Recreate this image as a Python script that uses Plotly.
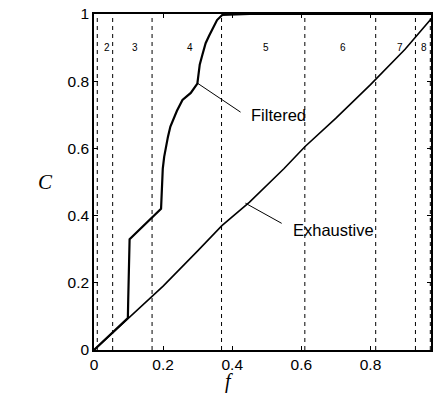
import plotly.graph_objects as go

# Region boundaries (dashed lines) and labels
boundaries = [0.0095, 0.054, 0.168, 0.369, 0.610, 0.815, 0.930, 0.973]
region_labels = ["2", "3", "4", "5", "6", "7", "8"]
region_label_x = [0.037, 0.118, 0.278, 0.498, 0.720, 0.885, 0.955]
region_label_y = 0.90

# Filtered curve
filt_f = [0.0, 0.05, 0.098, 0.099, 0.100, 0.103, 0.194, 0.196, 0.199, 0.203, 0.208, 0.214,
          0.221, 0.230, 0.240, 0.256, 0.280, 0.299, 0.302, 0.306, 0.314, 0.323, 0.333,
          0.342, 0.356, 0.371, 0.45, 0.60, 0.80, 0.975]
filt_c = [0.0, 0.05, 0.095, 0.15, 0.22, 0.33, 0.42, 0.48, 0.54, 0.575, 0.605, 0.635,
          0.665, 0.69, 0.712, 0.744, 0.765, 0.793, 0.82, 0.85, 0.88, 0.913, 0.935,
          0.952, 0.982, 0.997, 1.0, 1.0, 1.0, 1.0]

# Exhaustive curve
exh_f = [0.0, 0.1, 0.2, 0.3, 0.37, 0.45, 0.55, 0.61, 0.7, 0.8, 0.9, 0.975]
exh_c = [0.0, 0.095, 0.19, 0.295, 0.37, 0.44, 0.54, 0.605, 0.69, 0.79, 0.895, 0.985]

x_ticks = [0, 0.2, 0.4, 0.6, 0.8]
y_ticks = [0, 0.2, 0.4, 0.6, 0.8, 1]

fig = go.Figure()

for b in boundaries:
    fig.add_trace(go.Scatter(x=[b, b], y=[0, 1], mode="lines",
                             line=dict(color="black", width=1, dash="4px,4px"),
                             showlegend=False, hoverinfo="skip"))

fig.add_trace(go.Scatter(x=exh_f, y=exh_c, mode="lines",
                         line=dict(color="black", width=1.6), showlegend=False))
fig.add_trace(go.Scatter(x=filt_f, y=filt_c, mode="lines",
                         line=dict(color="black", width=2.2), showlegend=False))

# Pointer lines
fig.add_trace(go.Scatter(x=[0.298, 0.424], y=[0.795, 0.708], mode="lines",
                         line=dict(color="black", width=1), showlegend=False))
fig.add_trace(go.Scatter(x=[0.438, 0.543], y=[0.437, 0.377], mode="lines",
                         line=dict(color="black", width=1), showlegend=False))

font_sans = "Liberation Sans, Arial, sans-serif"

for lab, lx in zip(region_labels, region_label_x):
    fig.add_annotation(x=lx, y=region_label_y, text=lab, showarrow=False,
                       font=dict(family=font_sans, size=10, color="black"))

fig.add_annotation(x=0.447, y=0.70, text="Filtered", showarrow=False, xanchor="left",
                   font=dict(family=font_sans, size=16.5, color="black"))
fig.add_annotation(x=0.571, y=0.357, text="Exhaustive", showarrow=False, xanchor="left",
                   font=dict(family=font_sans, size=16.5, color="black"))

fig.add_annotation(x=-0.145, y=0.50, xref="paper", yref="paper", text="<i>C</i>",
                   showarrow=False, xanchor="center",
                   font=dict(family="Liberation Serif, Times New Roman, serif", size=21, color="black"))
fig.add_annotation(x=0.40, y=-0.093, xref="paper", yref="paper", text="<i>f</i>",
                   showarrow=False, yanchor="middle",
                   font=dict(family="Liberation Serif, Times New Roman, serif", size=20, color="black"))

fig.update_xaxes(range=[0, 0.975], tickvals=x_ticks, ticktext=["0", "0.2", "0.4", "0.6", "0.8"],
                 showgrid=False, zeroline=False, showline=True, linecolor="black", linewidth=1.5,
                 mirror="ticks", ticks="inside", ticklen=4, tickcolor="black",
                 tickfont=dict(family=font_sans, size=15.5, color="black"))
fig.update_yaxes(range=[0, 1], tickvals=y_ticks, ticktext=["0", "0.2", "0.4", "0.6", "0.8", "1"],
                 showgrid=False, zeroline=False, showline=True, linecolor="black", linewidth=1.5,
                 mirror="ticks", ticks="inside", ticklen=4, tickcolor="black",
                 tickfont=dict(family=font_sans, size=15.5, color="black"))

fig.update_layout(width=434, height=395, margin=dict(l=94, r=1, t=14, b=45),
                  plot_bgcolor="white", paper_bgcolor="white")

fig.write_html("out.html")
